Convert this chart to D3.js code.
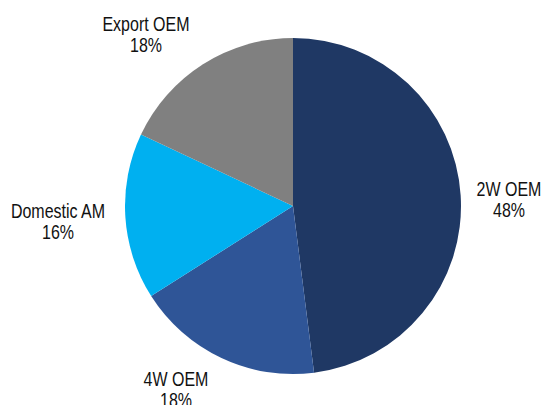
<!DOCTYPE html>
<html>
<head>
<meta charset="utf-8">
<script src="https://cdn.jsdelivr.net/npm/d3@7/dist/d3.min.js"></script>
<style>
  html, body { margin: 0; padding: 0; background: #fff; }
  text { font-family: "Liberation Sans", Arial, sans-serif; font-size: 16px; fill: #111; }
</style>
</head>
<body>
<svg id="chart" width="547" height="405"></svg>
<script>
// Revenue mix by segment
const categories = ["2W OEM", "4W OEM", "Domestic AM", "Export OEM"];
const shares = [48, 18, 16, 18];
const colors = ["#1F3864", "#2F5597", "#00B0F0", "#808080"];
// label positions: centre x and first-line baseline
const labelX = [509, 176, 58, 146];
const labelY = [196, 386, 218, 31];

const svg = d3.select("#chart");
const cx = 293, cy = 206, r = 168;
const stretch = 1.3;      // tall, condensed-looking label type
const lineStep = 21.5;    // px between label baselines

const pie = d3.pie().sort(null).value(d => d.value);
const arc = d3.arc().innerRadius(0).outerRadius(r);
const data = categories.map((c, i) => ({ name: c, value: shares[i], color: colors[i], lx: labelX[i], ly: labelY[i] }));

const g = svg.append("g").attr("transform", `translate(${cx},${cy})`);
g.selectAll("path")
  .data(pie(data))
  .join("path")
  .attr("d", arc)
  .attr("fill", d => d.data.color);

const labels = svg.selectAll("text.lbl")
  .data(data)
  .join("text")
  .attr("class", "lbl")
  .attr("text-anchor", "middle")
  .attr("transform", d => `translate(${d.lx},${d.ly}) scale(1,${stretch})`);
labels.append("tspan").attr("x", 0).attr("y", 0).text(d => d.name);
labels.append("tspan").attr("x", 0).attr("y", lineStep / stretch).text(d => d.value + "%");
</script>
</body>
</html>
